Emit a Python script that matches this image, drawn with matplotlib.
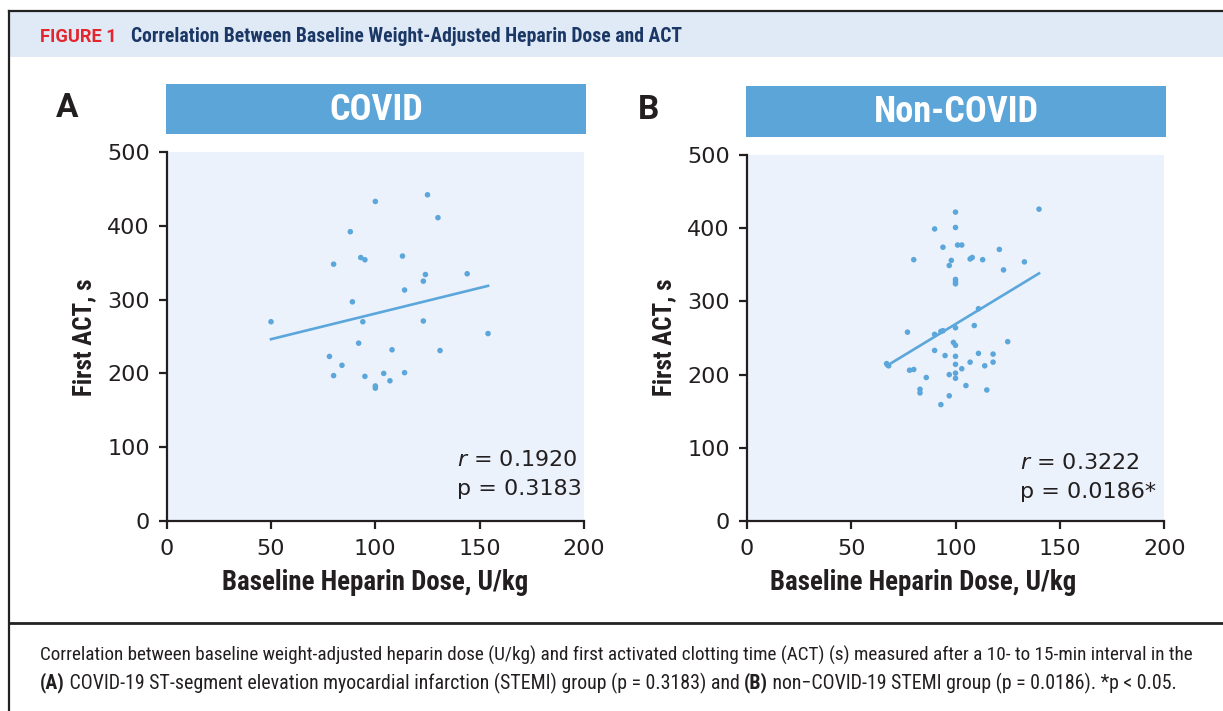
import matplotlib
matplotlib.use("Agg")
import matplotlib.pyplot as plt
from matplotlib.patches import Rectangle
from matplotlib.lines import Line2D
import numpy as np

# ---------------- data ----------------
covid_dose = [50, 100, 125, 130, 88, 93, 95, 113, 80, 124, 123, 144, 114, 89, 94,
              123, 154, 92, 108, 131, 78, 84, 80, 95, 104, 114, 107, 100, 100]
covid_act = [270, 433, 442, 411, 392, 357, 354, 359, 348, 334, 325, 335, 313, 297, 270,
             271, 254, 241, 232, 231, 223, 211, 197, 196, 200, 201, 190, 183, 180]

noncovid_dose = [100, 140, 90, 100, 94, 101, 103, 121, 80, 98, 97, 107, 108, 113, 133,
                 123, 100, 100, 100, 111, 109, 100, 77, 90, 93, 94, 125, 99, 100, 90,
                 95, 100, 111, 118, 107, 118, 100, 114, 67, 68, 78, 80, 103, 100, 97,
                 100, 86, 105, 83, 83, 115, 97, 93]
noncovid_act = [422, 426, 399, 401, 374, 377, 377, 371, 357, 356, 349, 358, 360, 357, 354,
                343, 330, 327, 324, 290, 267, 264, 258, 255, 259, 260, 245, 244, 240, 233,
                226, 225, 229, 228, 217, 217, 214, 212, 215, 212, 206, 207, 208, 202, 200,
                195, 196, 185, 180, 175, 179, 171, 159]

# fitted regression lines (slope, intercept)
covid_fit = (0.695, 211.6)
noncovid_fit = (1.732, 95.8)

panel_titles = ["COVID", "Non-COVID"]
panel_letters = ["A", "B"]
stats_r = ["0.1920", "0.3222"]
stats_p = ["0.3183", "0.0186*"]
x_ticks = [0, 50, 100, 150, 200]
y_ticks = [0, 100, 200, 300, 400, 500]
x_label = "Baseline Heparin Dose, U/kg"
y_label = "First ACT, s"
fig_label = "FIGURE 1"
fig_title = "Correlation Between Baseline Weight-Adjusted Heparin Dose and ACT"
caption1 = ("Correlation between baseline weight-adjusted heparin dose (U/kg) and first "
            "activated clotting time (ACT) (s) measured after a 10- to 15-min interval in the")
caption2 = [("(A)", "bold"),
            (" COVID-19 ST-segment elevation myocardial infarction (STEMI) group (p = 0.3183) and ", "normal"),
            ("(B)", "bold"),
            (" non\u2212COVID-19 STEMI group (p = 0.0186). *p < 0.05.", "normal")]

# ---------------- style ----------------
W, H = 1223, 711
DOT = "#5ba6da"
PLOTBG = "#ebf2fb"
BOX = "#5ba5d9"
HEADBG = "#dfeaf6"
TXT = "#231f20"
NAVY = "#1b3766"
RED = "#e3262e"
NARROW = ["Liberation Sans Narrow", "Roboto Condensed", "Roboto", "DejaVu Sans"]
TICKF = ["DejaVu Sans"]

plt.rcParams["font.family"] = TICKF
plt.rcParams["mathtext.fontset"] = "dejavusans"

fig = plt.figure(figsize=(W / 100, H / 100), dpi=100)
renderer = fig.canvas.get_renderer()


def fx(px):
    return px / W


def fy(py):
    return 1 - py / H


def fit_width(t, target):
    w = t.get_window_extent(renderer).width
    t.set_fontsize(t.get_fontsize() * target / w)


# frame, header band, separator
fig.add_artist(Rectangle((fx(10), fy(57)), fx(W - 10), 45 / H, transform=fig.transFigure,
                         facecolor=HEADBG, edgecolor="none", zorder=0))
fig.add_artist(Line2D([fx(9), 1], [fy(11), fy(11)], transform=fig.transFigure,
                      color="#222222", lw=1.6))
fig.add_artist(Line2D([fx(9), fx(9)], [fy(11), 0], transform=fig.transFigure,
                      color="#222222", lw=1.6))
fig.add_artist(Line2D([fx(9), 1], [fy(623), fy(623)], transform=fig.transFigure,
                      color="#222222", lw=2.0))

# header text
t = fig.text(fx(40), fy(37), fig_label, color=RED, fontsize=11, fontweight="bold",
             family=["Roboto", "DejaVu Sans"], va="center", ha="left")
fit_width(t, 77)
t = fig.text(fx(131), fy(37), fig_title, color=NAVY, fontsize=12, fontweight="bold",
             family=NARROW, va="center", ha="left")
fit_width(t, 551)

# panels
panels = [
    dict(dose=covid_dose, act=covid_act, fit=covid_fit, left=166.7, right=584.0, top=152,
         box=(166, 84, 586, 134), letter_xy=(67, 108), xl=375, yl=84, stat_x=139, stat_y=(82, 44)),
    dict(dose=noncovid_dose, act=noncovid_act, fit=noncovid_fit, left=746.7, right=1164.3, top=155,
         box=(746, 86, 1166, 137), letter_xy=(648, 110), xl=923, yl=664, stat_x=131, stat_y=(79, 40)),
]

title_texts = []
for i, p in enumerate(panels):
    bottom = 521
    ax = fig.add_axes([fx(p["left"]), fy(bottom), (p["right"] - p["left"]) / W, (bottom - p["top"]) / H])
    ax.set_facecolor(PLOTBG)
    ax.scatter(p["dose"], p["act"], s=16, color=DOT, edgecolors="none", zorder=3, clip_on=False)
    slope, intercept = p["fit"]
    xs = np.array([min(p["dose"]), max(p["dose"])])
    ax.plot(xs, slope * xs + intercept, color=DOT, lw=1.9, zorder=2)
    ax.set_xlim(0, 200)
    ax.set_ylim(0, 500)
    ax.set_xticks(x_ticks)
    ax.set_yticks(y_ticks)
    for s in ["top", "right"]:
        ax.spines[s].set_visible(False)
    for s in ["left", "bottom"]:
        ax.spines[s].set_linewidth(1.6)
        ax.spines[s].set_color(TXT)
    ax.tick_params(axis="both", direction="out", length=6, width=1.6, color=TXT,
                   labelsize=16, labelcolor=TXT)
    ax.tick_params(axis="x", pad=7)
    ax.tick_params(axis="y", pad=6)

    # r / p annotation
    ax.text(p["stat_x"], p["stat_y"][0], r"$\it{r}$ = " + stats_r[i], fontsize=16, color=TXT,
            va="center", ha="left")
    ax.text(p["stat_x"], p["stat_y"][1], "p = " + stats_p[i], fontsize=16, color=TXT,
            va="center", ha="left")

    # panel title box
    x0, y0, x1, y1 = p["box"]
    fig.add_artist(Rectangle((fx(x0), fy(y1)), (x1 - x0) / W, (y1 - y0) / H,
                             transform=fig.transFigure, facecolor=BOX, edgecolor="none"))
    tt = fig.text(fx((x0 + x1) / 2), fy((y0 + y1) / 2 + 1), panel_titles[i], color="white",
                  fontsize=24, fontweight="bold", family=NARROW, ha="center", va="center")
    title_texts.append(tt)

    # panel letter
    fig.text(fx(p["letter_xy"][0]), fy(p["letter_xy"][1]), panel_letters[i], color=TXT,
             fontsize=24, fontweight="bold", family=["Roboto", "DejaVu Sans"],
             ha="center", va="center")

    # axis labels
    t = fig.text(fx(p["xl"]), fy(582), x_label, color=TXT, fontsize=19, fontweight="bold",
                 family=NARROW, ha="center", va="center")
    fit_width(t, 306)
    t = fig.text(fx(p["yl"]), fy(337), y_label, color=TXT, fontsize=19, fontweight="bold",
                 family=NARROW, ha="center", va="center", rotation=90)
    fit_width_v = t.get_window_extent(renderer).height
    t.set_fontsize(t.get_fontsize() * 117 / fit_width_v)

# same scale for both panel titles, fitted on "Non-COVID"
w_nc = title_texts[1].get_window_extent(renderer).width
scale = 165 / w_nc
for tt in title_texts:
    tt.set_fontsize(tt.get_fontsize() * scale)

# caption
t = fig.text(fx(40), fy(655), caption1, color=TXT, fontsize=12, family=NARROW,
             ha="left", va="center")
fit_width(t, 1153)
cap_size = t.get_fontsize()


def draw_segments(x0, y, segs, size):
    texts = []
    x = x0
    for txt, wt in segs:
        tx = fig.text(fx(x), fy(y), txt, color=TXT, fontsize=size, fontweight=wt,
                      family=NARROW, ha="left", va="center")
        x += tx.get_window_extent(renderer).width
        texts.append(tx)
    return texts, x - x0


texts, total = draw_segments(40, 683, caption2, cap_size)
for tx in texts:
    tx.remove()
draw_segments(40, 683, caption2, cap_size * 1140 / total)

fig.savefig("out.png", dpi=100)
